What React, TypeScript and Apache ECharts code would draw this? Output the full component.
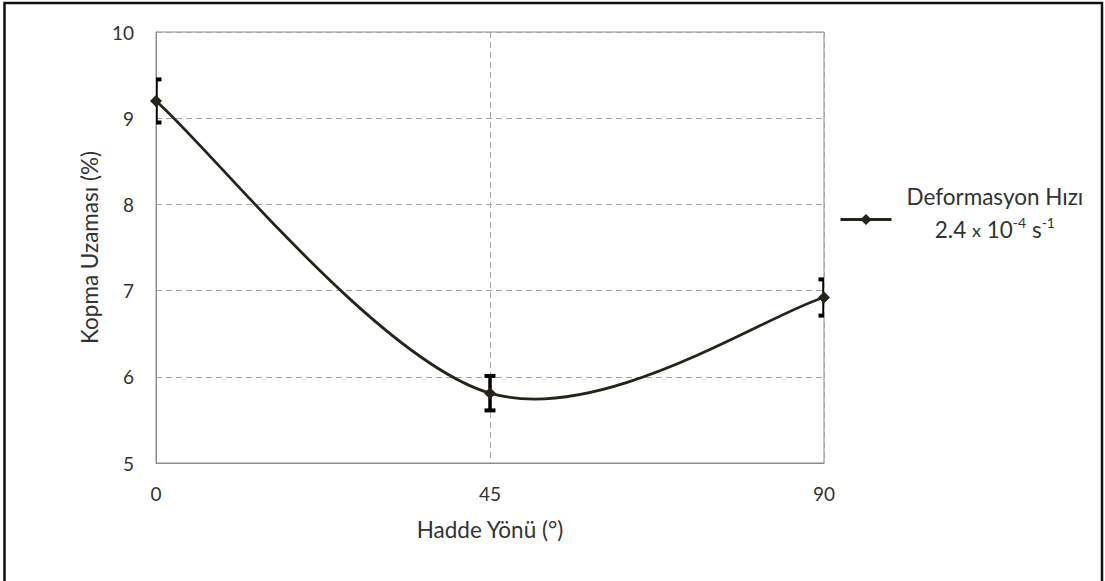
import React, { useEffect, useRef } from "react";
import * as echarts from "echarts";

const xValues = [0, 45, 90];
const elongation = [9.2, 5.81, 6.92];
const errors = [0.25, 0.2, 0.21];
const xTicks = [0, 45, 90];
const yTicks = [5, 6, 7, 8, 9, 10];
const seriesName = "Deformasyon Hızı";

const FONT = "Lato";
const LINE = "#262318";
const TXT = "#333";

export default function App() {
  const ref = useRef<HTMLDivElement>(null);
  useEffect(() => {
    if (!ref.current) return;
    const chart = echarts.init(ref.current, null, { renderer: "svg" });
    const lineData = xValues.map((x, i) => [x, elongation[i]]);
    const errData = xValues.map((x, i) => [x, elongation[i], errors[i]]);
    const n = xValues.length;
    chart.setOption({
      animation: false,
      backgroundColor: "#fff",
      textStyle: { fontFamily: FONT },
      graphic: [
        {
          type: "rect",
          shape: { x: 4.5, y: 3, width: 1097.5, height: 620 },
          style: { fill: "none", stroke: "#111", lineWidth: 2.5 },
          z: 100,
        },
      ],
      grid: {
        left: 156,
        right: 281,
        top: 32,
        bottom: 118,
        show: true,
        borderColor: "#8c8c8c",
        borderWidth: 1,
        backgroundColor: "transparent",
      },
      legend: {
        left: 839,
        top: 185,
        padding: 0,
        itemWidth: 51,
        itemHeight: 14,
        data: [
          {
            name: seriesName,
            lineStyle: { color: LINE, width: 3, opacity: 1 },
          },
        ],
        formatter: () =>
          "{a|Deformasyon Hızı}\n{n|2.4 }{x|x}{n| 10}{s|-4}{n| s}{s|-1}",
        textStyle: {
          fontFamily: FONT,
          color: TXT,
          padding: [0, 0, 13, 10],
          rich: {
            a: { fontFamily: FONT, fontSize: 22.5, color: TXT, align: "center", lineHeight: 33 },
            n: { fontFamily: FONT, fontSize: 22.5, color: TXT, align: "center", lineHeight: 33 },
            x: { fontFamily: FONT, fontSize: 18, color: TXT, align: "center", lineHeight: 33 },
            s: { fontFamily: FONT, fontSize: 14, color: TXT, align: "center", padding: [0, 0, 14, 0] },
          },
        },
      },
      xAxis: {
        type: "value",
        min: xTicks[0],
        max: xTicks[xTicks.length - 1],
        interval: 45,
        name: "Hadde Yönü (°)",
        nameLocation: "middle",
        nameGap: 55,
        nameTextStyle: { fontFamily: FONT, fontSize: 22.5, color: TXT },
        axisLine: { show: true, lineStyle: { color: "#8c8c8c", width: 1 } },
        axisTick: { show: false },
        axisLabel: { margin: 21, fontFamily: FONT, fontSize: 19, color: TXT },
        splitLine: { show: true, lineStyle: { color: "#a6a6a6", type: [6, 4], width: 1 } },
      },
      yAxis: {
        type: "value",
        min: yTicks[0],
        max: yTicks[yTicks.length - 1],
        interval: 1,
        name: "Kopma Uzaması (%)",
        nameLocation: "middle",
        nameGap: 50,
        nameTextStyle: { fontFamily: FONT, fontSize: 22.5, color: TXT },
        axisLine: { show: true, lineStyle: { color: "#8c8c8c", width: 1 } },
        axisTick: { show: false },
        axisLabel: { margin: 22, fontFamily: FONT, fontSize: 19, color: TXT },
        splitLine: { show: true, lineStyle: { color: "#a6a6a6", type: [6, 4], width: 1 } },
      },
      series: [
        {
          type: "custom",
          name: "err",
          z: 3,
          renderItem: (params: any, api: any) => {
            const x = api.value(0);
            const y = api.value(1);
            const e = api.value(2);
            const top = api.coord([x, y + e]);
            const bot = api.coord([x, y - e]);
            const cs = params.coordSys;
            const t = 3.5;
            const half = 5.5;
            const rects = [
              { x: top[0] - t / 2, y: top[1], width: t, height: bot[1] - top[1] },
              { x: top[0] - half, y: top[1] - 2, width: half * 2, height: 4 },
              { x: bot[0] - half, y: bot[1] - 2, width: half * 2, height: 4 },
            ];
            const children = rects
              .map((r) => echarts.graphic.clipRectByRect(r, cs))
              .filter(Boolean)
              .map((shape: any) => ({ type: "rect", shape, style: { fill: "#000" } }));
            return { type: "group", children };
          },
          data: errData,
        },
        {
          type: "custom",
          name: "curve",
          z: 4,
          renderItem: (params: any, api: any) => {
            const i = params.dataIndex;
            if (i >= n - 1) return { type: "group", children: [] };
            const pt = (k: number) => api.coord([xValues[k], elongation[k]]);
            const p0 = pt(Math.max(0, i - 1));
            const p1 = pt(i);
            const p2 = pt(i + 1);
            const p3 = pt(Math.min(n - 1, i + 2));
            return {
              type: "bezierCurve",
              shape: {
                x1: p1[0],
                y1: p1[1],
                x2: p2[0],
                y2: p2[1],
                cpx1: p1[0] + (p2[0] - p0[0]) / 6,
                cpy1: p1[1] + (p2[1] - p0[1]) / 6,
                cpx2: p2[0] - (p3[0] - p1[0]) / 6,
                cpy2: p2[1] - (p3[1] - p1[1]) / 6,
              },
              style: { stroke: LINE, lineWidth: 2.8, fill: "none" },
            };
          },
          data: lineData,
        },
        {
          type: "line",
          name: seriesName,
          z: 5,
          data: lineData,
          symbol: "diamond",
          symbolSize: 12,
          itemStyle: { color: LINE },
          lineStyle: { color: LINE, width: 0, opacity: 0 },
        },
      ],
    });
    return () => chart.dispose();
  }, []);
  return (
    <div
      ref={ref}
      style={{ position: "absolute", left: 0, top: 0, width: 1105, height: 581 }}
    />
  );
}
